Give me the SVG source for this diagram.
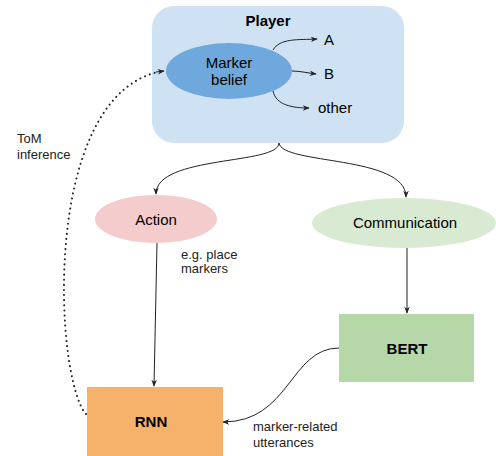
<svg xmlns="http://www.w3.org/2000/svg" width="496" height="456" viewBox="0 0 496 456">
<defs>
<marker id="ah" viewBox="0 0 10 10" refX="9" refY="5" markerWidth="7" markerHeight="7" orient="auto" markerUnits="userSpaceOnUse">
<path d="M0,1 L10,5 L0,9 L3,5 Z" fill="#222"/>
</marker>
<style>
text{font-family:"Liberation Sans",Arial,sans-serif;fill:#000}
.t15{font-size:15px}
.t13{font-size:13px;fill:#222}
.b{font-weight:bold}
.c{text-anchor:middle}
.ln{fill:none;stroke:#222;stroke-width:1}
.dot{fill:none;stroke:#222;stroke-width:2;stroke-linecap:round;stroke-dasharray:0.1,5}
</style>
</defs>
<rect width="496" height="456" fill="#fff"/>
<g id="player">
<rect x="152" y="6" width="252" height="137" rx="22" ry="22" fill="#cfe2f3"/>
<text class="t15 b c" x="268" y="26">Player</text>
</g>
<g id="marker-belief">
<ellipse cx="229" cy="71" rx="63" ry="28" fill="#6fa8dc"/>
<text class="t15 c" x="229" y="68">Marker</text>
<text class="t15 c" x="229" y="85">belief</text>
</g>
<g id="label-A"><text class="t15" x="324" y="45">A</text></g>
<g id="label-B"><text class="t15" x="324" y="79">B</text></g>
<g id="label-other"><text class="t15" x="318" y="113">other</text></g>
<g id="action">
<ellipse cx="156" cy="219" rx="61" ry="24" fill="#f4cccc"/>
<text class="t15 c" x="156" y="225">Action</text>
</g>
<g id="communication">
<ellipse cx="404" cy="223" rx="92" ry="25" fill="#d9ead3"/>
<text class="t15 c" x="405" y="228">Communication</text>
</g>
<g id="bert">
<rect x="339" y="314" width="135" height="68" fill="#b6d7a8"/>
<text class="t15 b c" x="407" y="354">BERT</text>
</g>
<g id="rnn">
<rect x="87" y="387" width="136" height="69" fill="#f6b26b"/>
<text class="t15 b c" x="151" y="427">RNN</text>
</g>
<g id="labels">
<text class="t13" x="181" y="259">e.g. place</text>
<text class="t13" x="181" y="273">markers</text>
<text class="t13" x="17" y="143">ToM</text>
<text class="t13" x="17" y="159">inference</text>
<text class="t13" x="253" y="431">marker-related</text>
<text class="t13" x="253" y="447">utterances</text>
</g>
<g id="connectors">
<path class="ln" d="M273,50 C280,38 298,40 317,39" marker-end="url(#ah)"/>
<path class="ln" d="M292,71 C300,71 308,73 316,74" marker-end="url(#ah)"/>
<path class="ln" d="M273,91 C276,105 292,108 309,108" marker-end="url(#ah)"/>
<path class="ln" d="M279,143 C279,165 156,155 156,194" marker-end="url(#ah)"/>
<path class="ln" d="M279,143 C282,165 406,155 406,197" marker-end="url(#ah)"/>
<path class="ln" d="M157,243 L154,386" marker-end="url(#ah)"/>
<path class="ln" d="M407,248 L407,313" marker-end="url(#ah)"/>
<path class="ln" d="M339,348 C290,348 290,422 223,422" marker-end="url(#ah)"/>
<path class="dot" d="M86,414 C55,380 40,100 158,72"/>
<path class="ln" d="M156,72 L164,71" marker-end="url(#ah)"/>
</g>
</svg>
